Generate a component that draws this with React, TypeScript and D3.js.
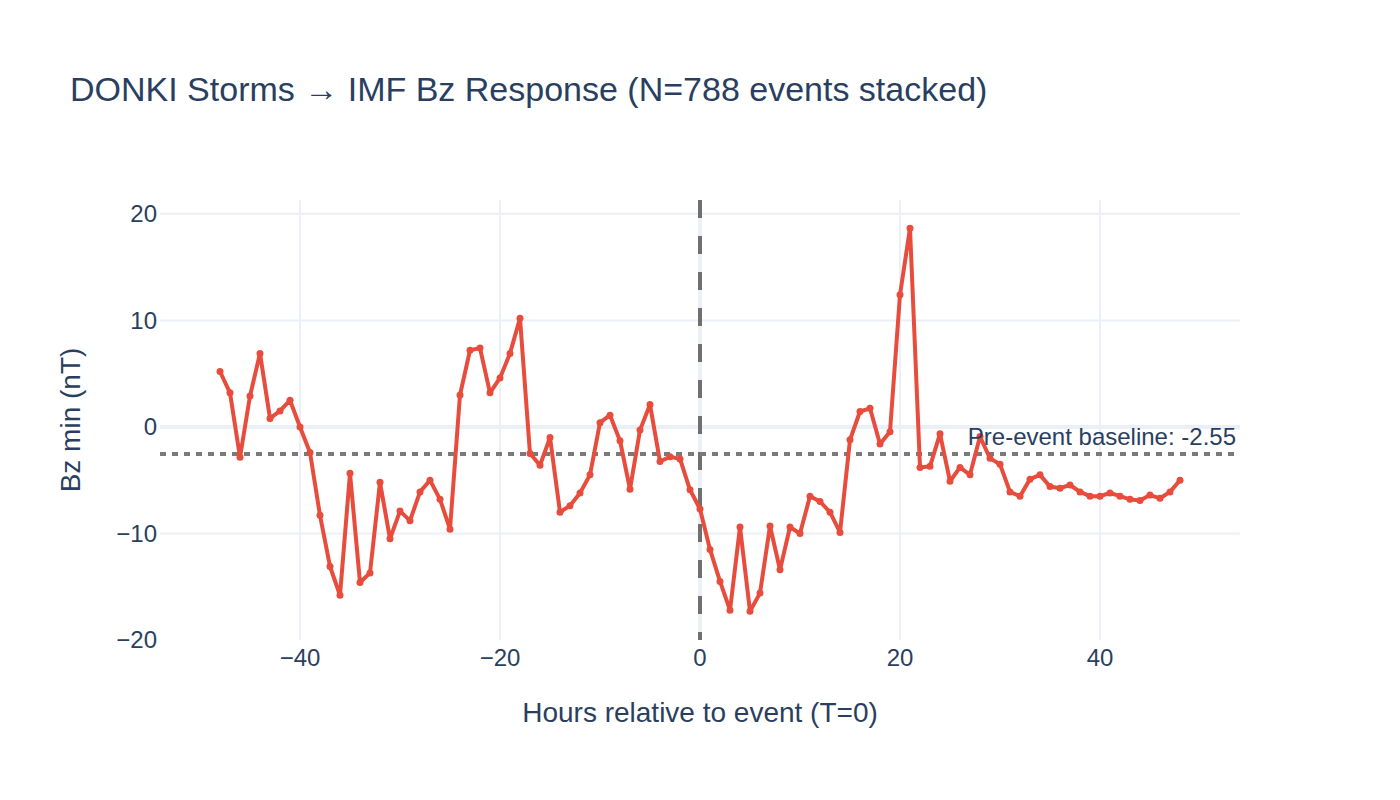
import React, { useEffect, useRef } from 'react';
import * as d3 from 'd3';

// hours relative to storm onset (T=0)
const hours: number[] = d3.range(-48, 49);

// stacked Bz minimum per hour (nT)
const bzMin: number[] = [
  5.2, 3.2, -2.85, 2.9, 6.9, 0.8, 1.5, 2.5, 0.0, -2.4,
  -8.3, -13.1, -15.8, -4.35, -14.6, -13.7, -5.2, -10.5, -7.9, -8.8,
  -6.1, -5.0, -6.8, -9.6, 3.0, 7.2, 7.4, 3.2, 4.6, 6.9,
  10.2, -2.5, -3.6, -1.0, -8.0, -7.4, -6.2, -4.5, 0.4, 1.1,
  -1.3, -5.85, -0.3, 2.1, -3.25, -2.8, -3.0, -5.9, -7.7, -11.5,
  -14.5, -17.2, -9.4, -17.3, -15.6, -9.3, -13.4, -9.4, -10.0, -6.5,
  -7.0, -8.0, -9.9, -1.2, 1.45, 1.75, -1.6, -0.45, 12.4, 18.65,
  -3.8, -3.7, -0.65, -5.1, -3.8, -4.5, -0.9, -2.95, -3.5, -6.1,
  -6.5, -4.9, -4.5, -5.6, -5.75, -5.45, -6.1, -6.5, -6.5, -6.2,
  -6.5, -6.8, -6.9, -6.4, -6.7, -6.1, -5.0,
];

const xTicks: number[] = [-40, -20, 0, 20, 40];
const yTicks: number[] = [-20, -10, 0, 10, 20];
const baseline = -2.55;

const W = 1400;
const H = 800;
const margin = { top: 200, right: 160, bottom: 160, left: 160 };
const FONT = '"Liberation Sans", Arial, sans-serif';
const INK = '#2a3f5f';
const GRID = '#ebf0f8';

const fmt = (v: number) => (v < 0 ? '\u2212' + Math.abs(v) : String(v));

const App: React.FC = () => {
  const svgRef = useRef<SVGSVGElement | null>(null);

  useEffect(() => {
    const svgEl = svgRef.current;
    if (!svgEl) return;
    const svg = d3.select(svgEl);
    svg.selectAll('*').remove();

    const x = d3.scaleLinear().domain([-54, 54]).range([margin.left, W - margin.right]);
    const y = d3.scaleLinear().domain([-20, 21.3]).range([H - margin.bottom, margin.top]);

    svg.append('rect').attr('width', W).attr('height', H).attr('fill', '#fff');

    // grid (no line on the bottom edge)
    const grid = svg.append('g');
    grid.selectAll('line.gx').data(xTicks).enter().append('line')
      .attr('x1', (d) => x(d)).attr('x2', (d) => x(d))
      .attr('y1', margin.top).attr('y2', H - margin.bottom)
      .attr('stroke', GRID).attr('stroke-width', (d) => (d === 0 ? 4 : 2));
    grid.selectAll('line.gy').data(yTicks.filter((d) => d > -20)).enter().append('line')
      .attr('y1', (d) => y(d)).attr('y2', (d) => y(d))
      .attr('x1', margin.left).attr('x2', W - margin.right)
      .attr('stroke', GRID).attr('stroke-width', (d) => (d === 0 ? 4 : 2));

    // tick labels
    svg.append('g').selectAll('text').data(xTicks).enter().append('text')
      .attr('x', (d) => x(d)).attr('y', 666)
      .attr('text-anchor', 'middle')
      .attr('font-family', FONT).attr('font-size', 24).attr('fill', INK)
      .text((d) => fmt(d));
    svg.append('g').selectAll('text').data(yTicks).enter().append('text')
      .attr('x', 157).attr('y', (d) => y(d))
      .attr('dy', '0.35em')
      .attr('text-anchor', 'end')
      .attr('font-family', FONT).attr('font-size', 24).attr('fill', INK)
      .text((d) => fmt(d));

    // T=0 marker and pre-event baseline
    svg.append('line')
      .attr('x1', x(0)).attr('x2', x(0))
      .attr('y1', margin.top).attr('y2', H - margin.bottom)
      .attr('stroke', '#707070').attr('stroke-width', 4)
      .attr('stroke-dasharray', '18,18');
    svg.append('line')
      .attr('x1', margin.left).attr('x2', W - margin.right)
      .attr('y1', y(baseline)).attr('y2', y(baseline))
      .attr('stroke', '#7a7a7a').attr('stroke-width', 4)
      .attr('stroke-dasharray', '6,6');

    // response curve
    const pts = hours.map((h, i) => [h, bzMin[i]] as [number, number]);
    const line = d3.line<[number, number]>().x((d) => x(d[0])).y((d) => y(d[1]));
    svg.append('path')
      .attr('d', line(pts) as string)
      .attr('fill', 'none').attr('stroke', '#e74c3c')
      .attr('stroke-width', 4).attr('stroke-linejoin', 'round');
    svg.append('g').selectAll('circle').data(pts).enter().append('circle')
      .attr('cx', (d) => x(d[0])).attr('cy', (d) => y(d[1]))
      .attr('r', 3.5).attr('fill', '#e74c3c');

    svg.append('text')
      .attr('x', W - margin.right - 4).attr('y', y(baseline) - 9)
      .attr('text-anchor', 'end')
      .attr('font-family', FONT).attr('font-size', 24).attr('fill', INK)
      .text(`Pre-event baseline: ${baseline}`);

    // titles
    svg.append('text')
      .attr('x', 70).attr('y', 101)
      .attr('font-family', FONT).attr('font-size', 34).attr('fill', INK)
      .text('DONKI Storms \u2192 IMF Bz Response (N=788 events stacked)');
    svg.append('text')
      .attr('x', x(0)).attr('y', 722)
      .attr('text-anchor', 'middle')
      .attr('font-family', FONT).attr('font-size', 28).attr('fill', INK)
      .text('Hours relative to event (T=0)');
    svg.append('text')
      .attr('transform', `translate(80, ${(margin.top + H - margin.bottom) / 2}) rotate(-90)`)
      .attr('text-anchor', 'middle')
      .attr('font-family', FONT).attr('font-size', 28).attr('fill', INK)
      .text('Bz min (nT)');
  }, []);

  return (
    <div style={{ position: 'absolute', left: 0, top: 0 }}>
      <svg ref={svgRef} width={W} height={H} style={{ display: 'block' }}></svg>
    </div>
  );
};

export default App;
